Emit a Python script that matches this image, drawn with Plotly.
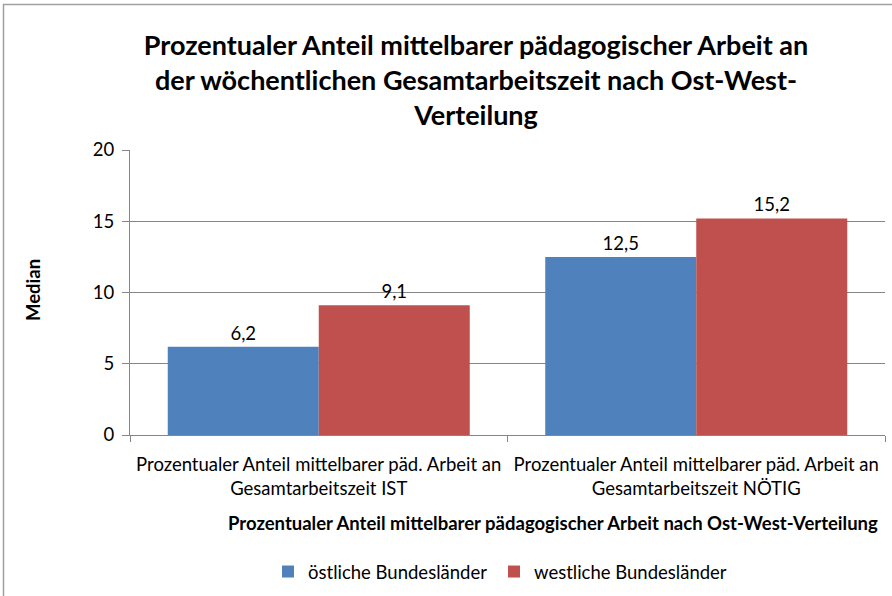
import plotly.graph_objects as go

categories = ["Prozentualer Anteil mittelbarer päd. Arbeit an<br>Gesamtarbeitszeit IST",
              "Prozentualer Anteil mittelbarer päd. Arbeit an<br>Gesamtarbeitszeit NÖTIG"]
series_names = ["östliche Bundesländer", "westliche Bundesländer"]
ost = [6.2, 12.5]
west = [9.1, 15.2]
colors = ["#4F81BD", "#C0504D"]
yticks = [0, 5, 10, 15, 20]

W, H = 892, 596
ml, mr, mt, mb = 130, 7, 150, 161
pw, ph = W - ml - mr, H - mt - mb

def px(x):
    return (x - ml) / pw

def py(y):
    return (H - mb - y) / ph

FONT = "Lato"
FS = 18.5

fig = go.Figure()
for i, (name, vals, col) in enumerate(zip(series_names, [ost, west], colors)):
    fig.add_trace(go.Bar(
        x=categories, y=vals, name=name, marker_color=col,
        marker_line_width=0,
        text=[f"{v:.1f}".replace(".", ",") for v in vals],
        textposition="outside", textfont=dict(size=FS, color="#000"),
        cliponaxis=False,
        legend="legend" if i == 0 else "legend2",
    ))

leg_common = dict(orientation="h", xanchor="left", y=py(572), yanchor="middle",
                  font=dict(size=FS), itemsizing="constant", bgcolor="rgba(0,0,0,0)")

fig.update_layout(
    width=W, height=H,
    margin=dict(l=ml, r=mr, t=mt, b=mb, autoexpand=False),
    barmode="group", bargap=0.2, bargroupgap=0,
    paper_bgcolor="white", plot_bgcolor="white",
    font=dict(family=FONT, color="#000"),
    separators=",.",
    title=dict(
        text="Prozentualer Anteil mittelbarer pädagogischer Arbeit an<br>der wöchentlichen Gesamtarbeitszeit nach Ost-West-<br>Verteilung",
        x=476 / W, xref="container", xanchor="center", y=1 - 55 / H, yanchor="top",
        font=dict(family=FONT, size=27, color="#000", weight="bold"),
    ),
    showlegend=True,
    legend=dict(x=px(268), **leg_common),
    legend2=dict(x=px(494), **leg_common),
    xaxis=dict(
        showline=True, linecolor="#868686", linewidth=1,
        ticks="outside", tickson="boundaries", ticklen=6, tickcolor="#868686",
        tickfont=dict(size=FS), showgrid=False, automargin=False,
        ticklabelstandoff=13,
    ),
    yaxis=dict(
        range=[0, 20], tickvals=yticks, showgrid=True, gridcolor="#868686", gridwidth=1,
        showline=True, linecolor="#868686", linewidth=1,
        ticks="outside", ticklen=7, tickcolor="#868686",
        tickfont=dict(size=FS), zeroline=False, automargin=False,
        ticklabelstandoff=4,
    ),
    annotations=[
        dict(text="Prozentualer Anteil mittelbarer pädagogischer Arbeit nach Ost-West-Verteilung",
             x=px(553), y=py(523), xref="paper", yref="paper", showarrow=False,
             xanchor="center", yanchor="middle",
             font=dict(size=FS, weight="bold")),
        dict(text="Median", textangle=-90,
             x=px(33), y=py(290), xref="paper", yref="paper", showarrow=False,
             xanchor="center", yanchor="middle",
             font=dict(size=FS, weight="bold")),
    ],
    shapes=[
        dict(type="rect", xref="paper", yref="paper",
             x0=px(3.5), x1=px(900), y0=py(604), y1=py(4.5),
             line=dict(color="#A0A0A0", width=1.5), fillcolor="rgba(0,0,0,0)", layer="below"),
    ],
)

fig.write_html("out.html", config={"displayModeBar": False},
               post_script="document.body.style.margin='0';")
